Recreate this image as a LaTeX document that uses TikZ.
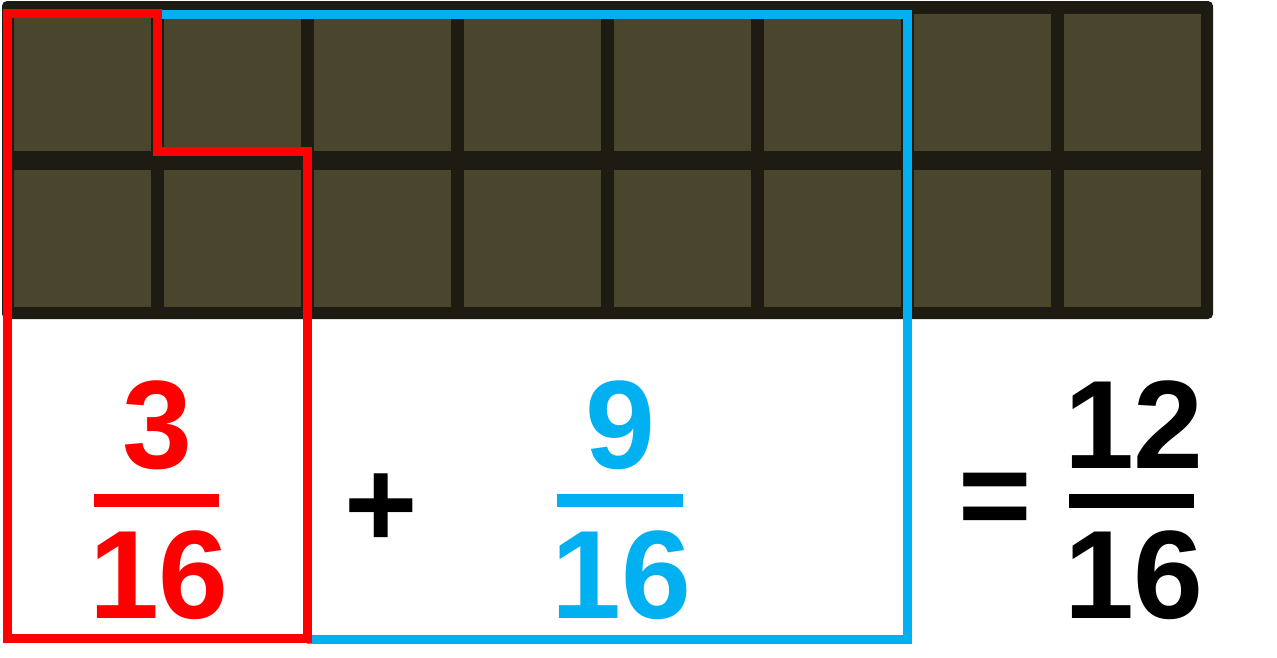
\documentclass[tikz,border=0pt]{standalone}
\usepackage{fontspec}
\setmainfont{Liberation Sans}
\definecolor{barborder}{HTML}{1E1C12}
\definecolor{cellfill}{HTML}{4A452D}
\definecolor{redline}{HTML}{FF0000}
\definecolor{blueline}{HTML}{00B0F0}
\begin{document}
\begin{tikzpicture}[x=1pt,y=-1pt,
  num/.style={inner sep=0pt, font=\fontsize{125.7}{130}\selectfont\bfseries, anchor=base},
  cell/.style={fill=cellfill},
  outline/.style={line width=9pt, line join=miter}]
\useasboundingbox (0,0) rectangle (1277,657);
% chocolate bar
\fill[barborder, rounded corners=5pt] (2,1) rectangle (1213,319);
\foreach \i in {0,...,7} {
  \foreach \y in {14,170} {
    \fill[cell] (14+150*\i,\y) rectangle ++(137,137);
  }
}
% outlines
\draw[outline, blueline] (157,14) -- (907,14) -- (907,639) -- (307,639);
\draw[outline, redline] (157,13.5) -- (7,13.5) -- (7,638) -- (307,638) -- (307,151) -- (157,151) -- cycle;
% fractions
\node[num, text=redline] (rn) at (157,468) {3};
\fill[redline] (94,494) rectangle (219,507);
\node[num, text=redline] (rd) at (159,618) {16};
\node[num] (plus) at (381,547) {+};
\node[num, text=blueline] (bn) at (620,468) {9};
\fill[blueline] (557,494) rectangle (683,507);
\node[num, text=blueline] (bd) at (621.5,618) {16};
\node[num] (eq) at (995.5,538) {=};
\node[num] (kn) at (1134,468) {12};
\fill[black] (1069,494) rectangle (1194,508);
\node[num] (kd) at (1134,618) {16};
\end{tikzpicture}
\end{document}
